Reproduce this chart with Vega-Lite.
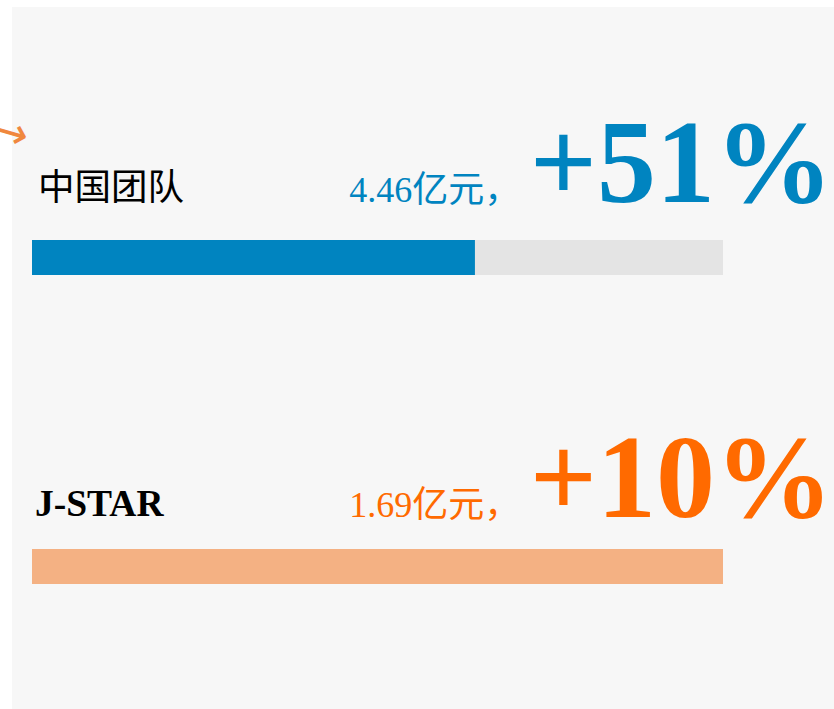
{
  "$schema": "https://vega.github.io/schema/vega-lite/v6.json",
  "width": 822,
  "height": 702,
  "padding": {"left": 12, "top": 7, "right": 0, "bottom": 0},
  "autosize": {"type": "none"},
  "background": "#ffffff",
  "config": {"view": {"fill": "#f7f7f7", "stroke": null}},
  "data": {
    "values": [
      {"team": "中国团队", "share": 0.641, "amount": "4.46亿元，", "growth": "+51%"},
      {"team": "J-STAR", "share": 1, "amount": "1.69亿元，", "growth": "+10%"}
    ]
  },
  "encoding": {
    "y": {
      "field": "team",
      "type": "nominal",
      "sort": null,
      "axis": null,
      "scale": {"paddingInner": 0.0777, "paddingOuter": 0.1748, "align": 1}
    }
  },
  "layer": [
    {
      "mark": {"type": "bar", "height": 35, "color": "#e4e4e4"},
      "encoding": {
        "x": {"datum": 0, "type": "quantitative", "axis": null,
              "scale": {"domain": [-0.02894, 1.16064], "zero": false, "nice": false}},
        "x2": {"datum": 1}
      }
    },
    {
      "mark": {"type": "bar", "height": 35},
      "encoding": {
        "x": {"field": "share", "type": "quantitative", "axis": null},
        "color": {"field": "team", "type": "nominal", "legend": null,
                  "scale": {"domain": ["中国团队", "J-STAR"], "range": ["#0084c0", "#f4b183"]}}
      }
    },
    {
      "transform": [{"filter": "datum.team === '中国团队'"}],
      "layer": [
        {
          "mark": {"type": "text", "align": "left", "baseline": "alphabetic", "dx": 6, "dy": -58,
                   "font": "'Liberation Serif', 'Noto Sans CJK SC', serif", "fontSize": 36.5, "color": "#000000"},
          "encoding": {"x": {"datum": 0, "type": "quantitative"}, "text": {"field": "team"}}
        },
        {
          "mark": {"type": "text", "align": "left", "baseline": "alphabetic", "dy": -55.5,
                   "font": "'Liberation Serif', 'Noto Sans CJK SC', serif", "fontSize": 36, "color": "#0084c0"},
          "encoding": {"x": {"datum": 0.459, "type": "quantitative"}, "text": {"field": "amount"}}
        },
        {
          "mark": {"type": "text", "align": "right", "baseline": "alphabetic", "dy": -55.5,
                   "font": "'Liberation Serif', serif", "fontWeight": "bold", "fontSize": 118, "color": "#0084c0"},
          "encoding": {"x": {"datum": 1.1592, "type": "quantitative"}, "text": {"field": "growth"}}
        },
        {
          "mark": {"type": "text", "align": "center", "baseline": "middle", "dy": -129, "angle": 16,
                   "font": "'DejaVu Sans', sans-serif", "fontSize": 44, "color": "#f0883e", "clip": false},
          "encoding": {"x": {"datum": -0.0834, "type": "quantitative"}, "text": {"value": "→"}}
        }
      ]
    },
    {
      "transform": [{"filter": "datum.team === 'J-STAR'"}],
      "layer": [
        {
          "mark": {"type": "text", "align": "left", "baseline": "alphabetic", "dx": 3, "dy": -50.5,
                   "font": "'Liberation Serif', serif", "fontWeight": "bold", "fontSize": 37.5, "color": "#000000"},
          "encoding": {"x": {"datum": 0, "type": "quantitative"}, "text": {"field": "team"}}
        },
        {
          "mark": {"type": "text", "align": "left", "baseline": "alphabetic", "dy": -49.5,
                   "font": "'Liberation Serif', 'Noto Sans CJK SC', serif", "fontSize": 36, "color": "#ff6a00"},
          "encoding": {"x": {"datum": 0.459, "type": "quantitative"}, "text": {"field": "amount"}}
        },
        {
          "mark": {"type": "text", "align": "right", "baseline": "alphabetic", "dy": -49.5,
                   "font": "'Liberation Serif', serif", "fontWeight": "bold", "fontSize": 118, "color": "#ff6a00"},
          "encoding": {"x": {"datum": 1.1592, "type": "quantitative"}, "text": {"field": "growth"}}
        }
      ]
    }
  ]
}
